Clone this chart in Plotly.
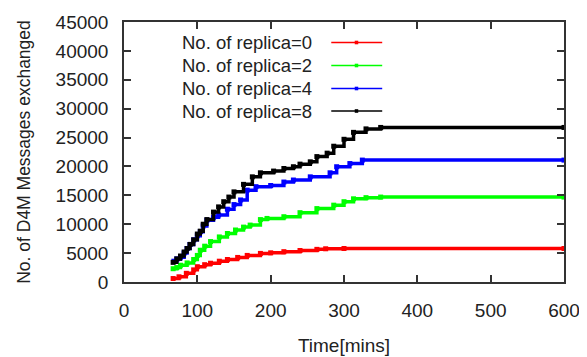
import plotly.graph_objects as go

# ---- data ----
series_names = ["No. of replica=0", "No. of replica=2", "No. of replica=4", "No. of replica=8"]
series_colors = ["#ff0000", "#00ff00", "#0000ff", "#000000"]

t_r0 = [67, 75, 85, 95, 100, 110, 118, 130, 141, 155, 168, 186, 200, 218, 240, 263, 275, 300, 600]
v_r0 = [600, 900, 1500, 2100, 2650, 3000, 3250, 3600, 3900, 4250, 4600, 4950, 5050, 5250, 5450, 5650, 5750, 5800, 5800]

t_r2 = [67, 72, 77, 86, 95, 100, 104, 110, 118, 130, 141, 152, 163, 172, 186, 195, 218, 240, 263, 286, 300, 313, 330, 350, 600]
v_r2 = [2300, 2500, 2900, 3300, 3900, 4600, 5500, 6200, 7000, 7800, 8400, 9000, 9500, 9850, 10800, 11000, 11300, 12000, 12700, 13300, 13900, 14400, 14600, 14700, 14700]

t_r4 = [68, 72, 77, 82, 86, 90, 95, 100, 104, 108, 113, 122, 129, 141, 150, 159, 168, 180, 200, 218, 231, 254, 281, 290, 308, 325, 600]
v_r4 = [3600, 4000, 4300, 5000, 5800, 6500, 7300, 8000, 8700, 9700, 10700, 11200, 11600, 12600, 13400, 14200, 15900, 16500, 16700, 17300, 17650, 18200, 18900, 19950, 20500, 21100, 21100]

t_r8 = [67, 72, 77, 82, 86, 90, 95, 100, 104, 108, 113, 122, 129, 136, 143, 150, 163, 175, 186, 204, 218, 231, 240, 254, 263, 277, 286, 300, 313, 330, 350, 600]
v_r8 = [3400, 4000, 4500, 5200, 5800, 6500, 7300, 8300, 8800, 10000, 10800, 12100, 13000, 13900, 14700, 15600, 16900, 18200, 18900, 19200, 19650, 19950, 20400, 20800, 21700, 22300, 23500, 24700, 25900, 26500, 26750, 26750]

x_ticks = [0, 100, 200, 300, 400, 500, 600]
y_ticks = [0, 5000, 10000, 15000, 20000, 25000, 30000, 35000, 40000, 45000]

times = [t_r0, t_r2, t_r4, t_r8]
values = [v_r0, v_r2, v_r4, v_r8]

# page body has an 8px default margin; compensate so the plot area lands
# at screen x 123.5..564, y 22..282
OFF = 8
W, H = 587 - OFF, 357 - OFF
L, R, T, B = 123.5 - OFF, 23, 22 - OFF, 75
FONT = "Liberation Sans, Arial, sans-serif"
TXT = "#222222"

fig = go.Figure()
for name, col, t, v in zip(series_names, series_colors, times, values):
    fig.add_trace(go.Scatter(
        x=t, y=v, name=name, mode="lines+markers",
        line=dict(color=col, width=3.5, shape="hv"),
        marker=dict(color=col, size=5, symbol="square"),
        showlegend=False,
    ))

# gnuplot-style legend: right-aligned text with the sample to its right
pw = W - L - R
ph = H - T - B
def sx(px):  # screen px -> paper x
    return (px - OFF - L) / pw
def sy(py):  # screen px -> paper y
    return 1 - (py - OFF - T) / ph

rows_y = [42.5, 65.5, 88.5, 111]
for name, col, ry in zip(series_names, series_colors, rows_y):
    fig.add_annotation(
        x=sx(314), y=sy(ry), xref="paper", yref="paper",
        text=name, showarrow=False, xanchor="right", yanchor="middle",
        font=dict(family=FONT, size=18.5, color=TXT),
    )
    fig.add_shape(type="line", xref="paper", yref="paper",
                  x0=sx(331), x1=sx(382), y0=sy(ry), y1=sy(ry),
                  line=dict(color=col, width=1.5))
    fig.add_shape(type="rect", xref="paper", yref="paper",
                  x0=sx(354.5), x1=sx(358), y0=sy(ry - 1.8), y1=sy(ry + 1.8),
                  line=dict(width=0), fillcolor=col)

axis_common = dict(
    showgrid=False, zeroline=False, showline=True, linecolor="#333333", linewidth=1.5,
    mirror="ticks", ticks="inside", ticklen=7, tickwidth=1.5, tickcolor="#333333",
    tickfont=dict(family=FONT, size=19, color=TXT),
    title_font=dict(family=FONT, size=19, color=TXT),
)
fig.update_xaxes(range=[0, 600], tickvals=x_ticks, ticktext=[str(v) for v in x_ticks],
                 title_text="Time[mins]", title_standoff=19, ticklabelstandoff=10,
                 **axis_common)
fig.update_yaxes(range=[0, 45000], tickvals=y_ticks, ticktext=[str(v) for v in y_ticks],
                 title_text="No. of D4M Messages exchanged", title_standoff=20,
                 ticklabelstandoff=10, **axis_common)
fig.update_yaxes(title_font_size=17.5)

fig.update_layout(
    width=W, height=H, margin=dict(l=L, r=R, t=T, b=B, autoexpand=False),
    plot_bgcolor="white", paper_bgcolor="white",
)
fig.write_html("out.html")
